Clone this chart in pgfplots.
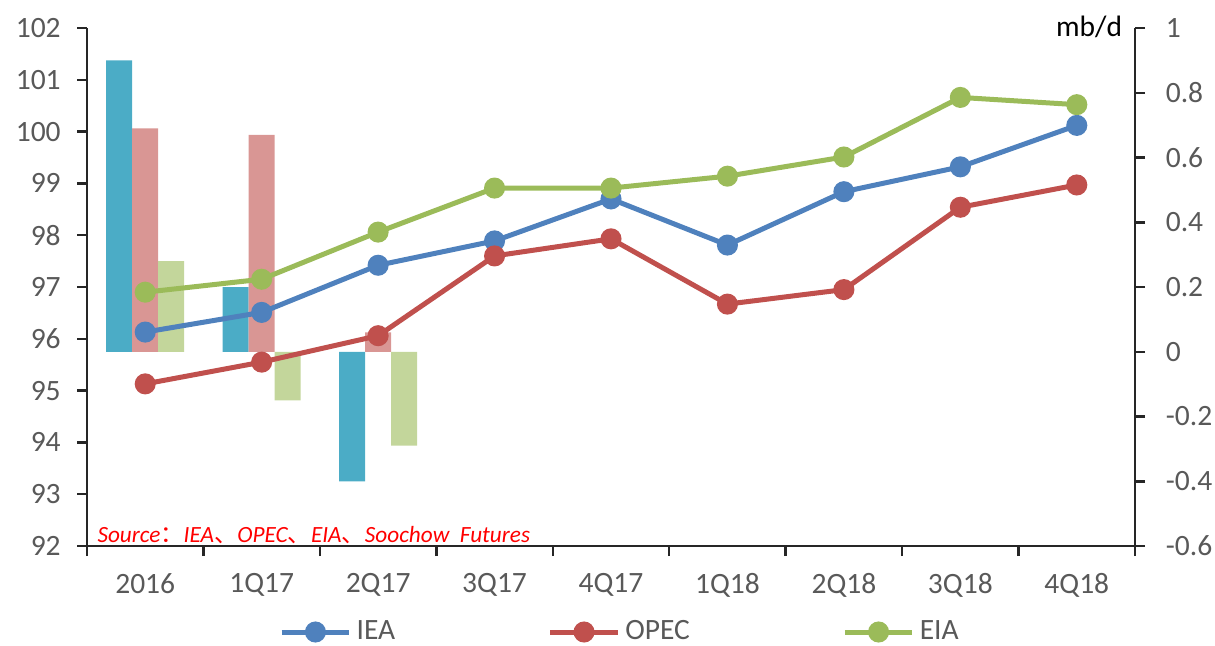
\documentclass[border=0pt]{standalone}
\usepackage{pgfplots}
\pgfplotsset{compat=1.18}
\usepackage{fontspec}
\setmainfont{Carlito}
\newfontfamily\cjk{Noto Sans CJK SC}
\definecolor{barblue}{HTML}{4BACC6}
\definecolor{barpink}{HTML}{D99694}
\definecolor{bargreen}{HTML}{C3D69B}
\definecolor{lineblue}{HTML}{4F81BD}
\definecolor{linered}{HTML}{C0504D}
\definecolor{linegreen}{HTML}{9BBB59}
\definecolor{labelgray}{HTML}{595959}
\begin{document}
\begin{tikzpicture}
\useasboundingbox (-34.8pt,-39.6pt) rectangle (451.2pt,218.4pt);
\begin{axis}[
  scale only axis, width=419.2pt, height=207.2pt,
  xmin=-0.5, xmax=8.5, ymin=-0.6, ymax=1,
  clip=false,
  axis y line*=right, axis x line=none,
  y axis line style={-, line width=1pt, color=black!85},
  ytick={-0.6,-0.4,-0.2,0,0.2,0.4,0.6,0.8,1},
  tick align=outside, major tick length=4pt,
  ytick style={line width=1pt, color=black!85},
  yticklabel style={font=\fontsize{11.8}{13}\selectfont, text=labelgray, xshift=4.8pt},
  /pgf/number format/assume math mode=true,
  ybar=0pt, bar width=10.4pt,
]
\addplot[fill=barblue, draw=none] coordinates {(0,0.90) (1,0.20) (2,-0.40)};
\addplot[fill=barpink, draw=none] coordinates {(0,0.69) (1,0.67) (2,0.06)};
\addplot[fill=bargreen, draw=none] coordinates {(0,0.28) (1,-0.15) (2,-0.29)};
\node[anchor=east, inner sep=0pt, font=\fontsize{11.8}{13}\selectfont] at (rel axis cs:1,1) [xshift=-5pt, yshift=0.5pt] {mb/d};
\end{axis}
\begin{axis}[
  scale only axis, width=419.2pt, height=207.2pt,
  xmin=-0.5, xmax=8.5, ymin=92, ymax=102,
  axis y line*=left, axis x line*=bottom,
  x axis line style={-, line width=1pt, color=black!85},
  y axis line style={-, line width=1pt, color=black!85},
  ytick={92,93,94,95,96,97,98,99,100,101,102},
  xtick={-0.5,0.5,1.5,2.5,3.5,4.5,5.5,6.5,7.5,8.5},
  xticklabels={},
  extra x ticks={0,1,2,3,4,5,6,7,8},
  extra x tick labels={2016,1Q17,2Q17,3Q17,4Q17,1Q18,2Q18,3Q18,4Q18},
  extra x tick style={major tick length=0pt},
  tick align=outside, major tick length=4pt,
  tick style={line width=1pt, color=black!85},
  ticklabel style={font=\fontsize{11.8}{13}\selectfont, text=labelgray},
  xticklabel style={yshift=-7.5pt},
  yticklabel style={xshift=-3pt},
  /pgf/number format/assume math mode=true,
  legend style={at={(axis description cs:0.51,-0.166)}, anchor=center, draw=none, fill=none,
    font=\fontsize{11.8}{13}\selectfont, text=labelgray,
    /tikz/every even column/.append style={column sep=59pt}},
  legend columns=3,
  legend image code/.code={\draw[mark repeat=2,mark phase=2] plot coordinates {(0pt,0pt) (13.5pt,0pt) (27pt,0pt)};},
]
\addplot[lineblue, line width=2pt, mark=*, mark size=3.2pt, mark options={fill=lineblue, draw=lineblue}] coordinates {
(0,96.13) (1,96.51) (2,97.42) (3,97.89) (4,98.70) (5,97.81) (6,98.84) (7,99.32) (8,100.12)};
\addlegendentry{IEA}
\addplot[linered, line width=2pt, mark=*, mark size=3.2pt, mark options={fill=linered, draw=linered}] coordinates {
(0,95.13) (1,95.55) (2,96.06) (3,97.60) (4,97.93) (5,96.67) (6,96.95) (7,98.54) (8,98.97)};
\addlegendentry{OPEC}
\addplot[linegreen, line width=2pt, mark=*, mark size=3.2pt, mark options={fill=linegreen, draw=linegreen}] coordinates {
(0,96.90) (1,97.15) (2,98.06) (3,98.91) (4,98.91) (5,99.14) (6,99.51) (7,100.66) (8,100.52)};
\addlegendentry{EIA}
\node[anchor=base west, inner sep=0pt, text=red, font=\fontsize{9.3}{10}\selectfont\itshape] at (rel axis cs:0,0) [xshift=4pt, yshift=1.5pt] {Source{\cjk ：}IEA{\cjk 、}OPEC{\cjk 、}EIA{\cjk 、}Soochow\ \ Futures};
\end{axis}
\end{tikzpicture}
\end{document}
